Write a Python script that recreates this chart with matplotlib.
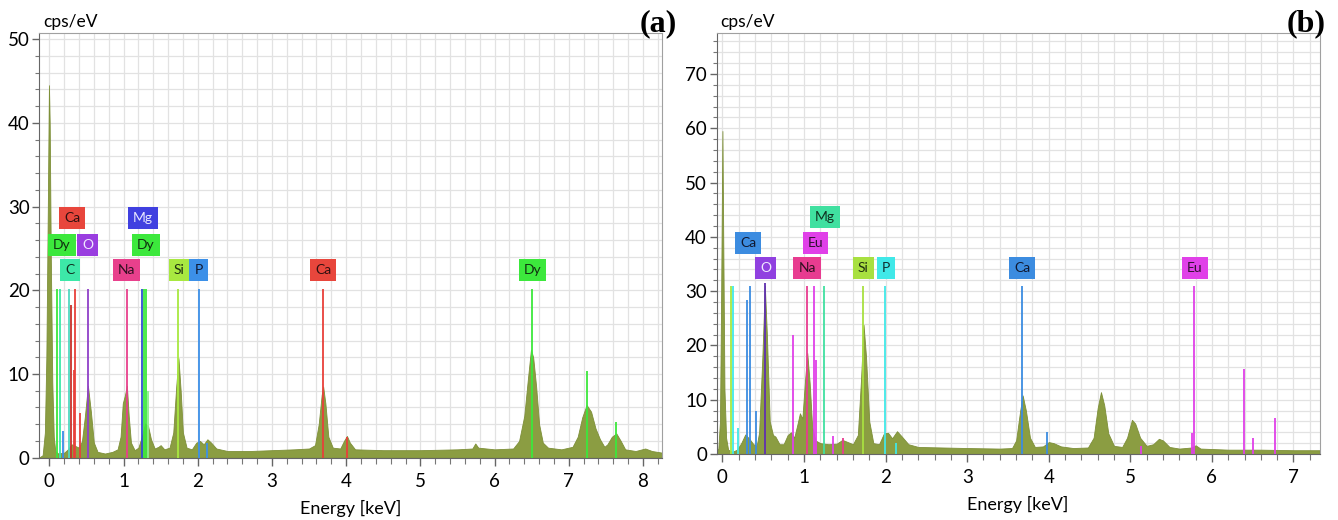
import matplotlib.pyplot as plt
from matplotlib.ticker import MultipleLocator

plt.rcParams['font.family'] = ['Lato', 'DejaVu Sans']

# Spektrum (a): Energie in keV, Zaehlrate in cps/eV
energie_a = [-0.14, -0.09, -0.06, -0.04, -0.02, -0.005, 0.005, 0.02, 0.04, 0.06,
             0.08, 0.12, 0.2, 0.25, 0.3, 0.35, 0.4, 0.44, 0.48, 0.52,
             0.56, 0.6, 0.65, 0.75, 0.85, 0.92, 0.96, 0.99, 1.02, 1.045,
             1.07, 1.1, 1.15, 1.2, 1.25, 1.29, 1.33, 1.37, 1.42, 1.47,
             1.5, 1.55, 1.62, 1.67, 1.71, 1.74, 1.77, 1.8, 1.85, 1.92,
             1.98, 2.03, 2.08, 2.13, 2.18, 2.25, 2.4, 2.7, 3.0, 3.3,
             3.5, 3.58, 3.63, 3.67, 3.69, 3.72, 3.76, 3.82, 3.92, 3.97,
             4.01, 4.05, 4.12, 4.5, 5.0, 5.5, 5.7, 5.74, 5.78, 6.0,
             6.25, 6.33, 6.4, 6.45, 6.49, 6.52, 6.56, 6.6, 6.65, 6.72,
             6.9, 7.05, 7.12, 7.18, 7.24, 7.3, 7.36, 7.42, 7.48, 7.52,
             7.58, 7.64, 7.7, 7.76, 7.9, 8.03, 8.12, 8.26]
zaehl_a = [0, 0.3, 3, 12, 30, 44.5, 40, 24, 9, 2.5,
           0.8, 0.5, 0.6, 1.0, 1.6, 1.4, 1.2, 2.0, 5.0, 8.6,
           5.5, 1.8, 0.7, 0.5, 0.7, 1.0, 2.5, 6.5, 7.5, 8.6,
           5.0, 1.8, 0.9, 1.2, 2.6, 4.1, 3.8, 2.2, 1.1, 1.3,
           1.5, 1.0, 1.2, 3.0, 8.5, 11.9, 8.0, 3.0, 1.2, 1.0,
           1.8, 2.0, 1.6, 2.2, 1.8, 1.1, 0.8, 0.8, 0.9, 1.0,
           1.1, 1.5, 4.0, 7.5, 8.5, 6.5, 2.5, 1.2, 1.1, 2.0,
           2.6, 1.8, 1.0, 0.9, 0.9, 1.0, 1.1, 1.7, 1.2, 1.0,
           1.1, 2.0, 5.0, 9.5, 12.9, 12.0, 8.5, 4.0, 1.8, 1.2,
           1.0, 1.3, 2.5, 4.8, 6.3, 5.5, 3.5, 2.2, 1.3, 1.6,
           2.5, 2.9, 2.0, 1.0, 0.8, 1.1, 0.8, 0.6]

# Linienmarker (a)
linien_a_energie = [0.108, 0.144, 0.18, 0.27, 0.29, 0.34, 0.335, 0.41, 0.517, 1.043,
                    1.25, 1.28, 1.30, 1.326, 1.74, 2.02, 2.13, 3.69, 4.01, 6.5,
                    7.25, 7.64]
linien_a_hoehe = [20.2, 20.2, 3.2, 20.2, 18.3, 20.2, 10.5, 5.3, 20.2, 20.2,
                  20.2, 20.2, 20.2, 8.0, 20.2, 20.2, 1.8, 20.2, 2.5, 20.2,
                  10.3, 4.3]
linien_a_farbe = ['#3ce83c', '#3ce8a8', '#3c8ce8', '#50d8c0', '#c8302a', '#e8403a', '#e8403a', '#e8403a', '#9040c8', '#e8408c',
                  '#3050d0', '#3ce83c', '#3ce83c', '#8cf08c', '#a8e840', '#3c90e8', '#3c90e8', '#e8403a', '#e8403a', '#3ce83c',
                  '#3ce83c', '#3ce83c']

# Beschriftungen (a)
etiketten_a = ['Ca', 'Dy', 'O', 'C', 'Mg', 'Dy', 'Na', 'Si', 'P', 'Ca', 'Dy']
etiketten_a_x = [0.31, 0.17, 0.52, 0.28, 1.256, 1.30, 1.04, 1.75, 2.01, 3.69, 6.51]
etiketten_a_y = [28.6, 25.4, 25.4, 22.4, 28.6, 25.4, 22.4, 22.4, 22.4, 22.4, 22.4]
etiketten_a_farbe = ['#e8463c', '#3ce83c', '#9a3ee0', '#3de8a8', '#4040e0', '#3ce83c', '#e8408c', '#a8e840', '#3c90e8', '#e8463c', '#3ce83c']
etiketten_a_text = ['#301010', '#103010', '#f0e8ff', '#103020', '#e8e8ff', '#103010', '#301020', '#203010', '#101830', '#301010', '#103010']

# Spektrum (b)
energie_b = [-0.1, -0.05, -0.03, -0.015, 0.0, 0.01, 0.025, 0.045, 0.07, 0.12,
             0.18, 0.23, 0.28, 0.33, 0.38, 0.42, 0.45, 0.49, 0.52, 0.545,
             0.58, 0.62, 0.65, 0.7, 0.75, 0.8, 0.84, 0.88, 0.92, 0.95,
             0.98, 1.01, 1.04, 1.07, 1.1, 1.14, 1.2, 1.3, 1.4, 1.47,
             1.52, 1.6, 1.66, 1.7, 1.73, 1.76, 1.8, 1.85, 1.92, 1.98,
             2.03, 2.08, 2.14, 2.2, 2.28, 2.4, 2.7, 3.0, 3.4, 3.55,
             3.6, 3.65, 3.68, 3.72, 3.77, 3.83, 3.93, 4.0, 4.06, 4.15,
             4.3, 4.48, 4.55, 4.6, 4.64, 4.68, 4.73, 4.8, 4.9, 4.96,
             5.02, 5.06, 5.12, 5.2, 5.28, 5.35, 5.4, 5.48, 5.6, 5.75,
             5.8, 5.86, 6.2, 6.6, 7.0, 7.32]
zaehl_b = [0, 1, 6, 30, 59.5, 40, 12, 3, 0.8, 0.4,
           0.8, 2.0, 3.6, 2.8, 1.8, 1.5, 4.0, 18.0, 31.0, 22.0,
           6.0, 3.5, 3.2, 1.8, 1.8, 3.5, 4.0, 3.0, 5.5, 7.5,
           6.5, 13.0, 18.6, 13.0, 5.0, 2.5, 2.0, 1.8, 1.9, 2.6,
           2.3, 1.8, 3.5, 14.0, 23.8, 18.0, 6.0, 2.0, 1.8, 3.8,
           3.9, 2.9, 4.2, 3.2, 1.8, 1.3, 1.2, 1.1, 1.0, 1.1,
           2.5, 8.0, 10.8, 8.0, 3.0, 1.3, 1.4, 2.2, 2.0, 1.4,
           1.1, 1.2, 3.0, 8.5, 11.4, 9.0, 3.8, 1.5, 1.3, 3.0,
           6.3, 5.6, 3.0, 1.5, 1.8, 2.8, 2.5, 1.3, 1.0, 1.2,
           1.6, 1.0, 0.8, 0.8, 0.7, 0.7]

# Linienmarker (b)
linien_b_energie = [0.103, 0.127, 0.19, 0.306, 0.343, 0.41, 0.523, 0.87, 1.034, 1.128,
                    1.145, 1.246, 1.35, 1.475, 1.724, 1.994, 2.125, 3.667, 3.98, 5.13,
                    5.75, 5.78, 6.39, 6.50, 6.77]
linien_b_hoehe = [31, 31, 4.8, 28.3, 31, 8.0, 31.5, 22, 31, 31,
                  17.3, 31, 3.3, 3.0, 31, 31, 2.0, 31, 4.0, 1.5,
                  3.8, 31, 15.7, 3.0, 6.6]
linien_b_farbe = ['#a8e840', '#40e8e8', '#40e8e8', '#3c8ce0', '#3c8ce0', '#3c8ce0', '#6030b0', '#e040e8', '#e83c90', '#e040e8',
                  '#e040e8', '#40e0a0', '#e040e8', '#e83c90', '#a8e040', '#40e8e8', '#40e8e8', '#3c8ce0', '#3c8ce0', '#e040e8',
                  '#e040e8', '#e040e8', '#e040e8', '#e040e8', '#e040e8']

# Beschriftungen (b)
etiketten_b = ['Ca', 'O', 'Mg', 'Eu', 'Na', 'Si', 'P', 'Ca', 'Eu']
etiketten_b_x = [0.313, 0.527, 1.252, 1.14, 1.038, 1.728, 2.004, 3.673, 5.79]
etiketten_b_y = [38.9, 34.2, 43.7, 38.9, 34.2, 34.2, 34.2, 34.2, 34.2]
etiketten_b_farbe = ['#3c8ce0', '#9040e0', '#40e0a0', '#e040e8', '#e83c90', '#a8e040', '#40e8e8', '#3c8ce0', '#e040e8']
etiketten_b_text = ['#101830', '#f0e8ff', '#103020', '#301030', '#301020', '#203010', '#103030', '#101830', '#301030']


def panel(ax, energie, zaehl, lin_e, lin_h, lin_f, etk, etk_x, etk_y, etk_f, etk_t,
          xmin, xmax, ymax, xmaj, ymaj, ymin_step):
    ax.fill_between(energie, 0, zaehl, color='#8b9d42', lw=0.6, ec='#7d8f38', zorder=2)
    ax.vlines(lin_e, 0, lin_h, colors=lin_f, lw=1.3, zorder=3)
    for t, x, y, f, tf in zip(etk, etk_x, etk_y, etk_f, etk_t):
        ax.text(x, y, t, ha='center', va='center', fontsize=10, color=tf, zorder=4,
                bbox=dict(boxstyle='square,pad=0.36', fc=f, ec='none'))
    ax.set_xlim(xmin, xmax)
    ax.set_ylim(0, ymax)
    ax.xaxis.set_major_locator(MultipleLocator(xmaj))
    ax.xaxis.set_minor_locator(MultipleLocator(0.2))
    ax.yaxis.set_major_locator(MultipleLocator(ymaj))
    ax.yaxis.set_minor_locator(MultipleLocator(ymin_step))
    ax.grid(True, which='both', color='#e2e2e2', lw=0.9, zorder=0)
    ax.set_axisbelow(True)
    ax.tick_params(which='major', length=6, width=1, color='#666666', labelsize=13.5, pad=5)
    ax.tick_params(which='minor', length=4, width=0.8, color='#777777')
    ax.tick_params(axis='y', which='major', length=5, pad=2)
    ax.tick_params(axis='y', which='minor', length=3)
    for s in ['top', 'right']:
        ax.spines[s].set_color('#a0a0a0')
    for s in ['left', 'bottom']:
        ax.spines[s].set_color('#666666')
    ax.set_xlabel('Energy [keV]', fontsize=13, labelpad=7)


fig = plt.figure(figsize=(13.38, 5.2), dpi=100)
ax_a = fig.add_axes([39.3 / 1338, (520 - 457.7) / 520, 623 / 1338, 424.4 / 520])
ax_b = fig.add_axes([716.7 / 1338, (520 - 454) / 520, 602.9 / 1338, 420.7 / 520])

panel(ax_a, energie_a, zaehl_a, linien_a_energie, linien_a_hoehe, linien_a_farbe,
      etiketten_a, etiketten_a_x, etiketten_a_y, etiketten_a_farbe, etiketten_a_text,
      -0.135, 8.26, 50.7, 1, 10, 2)
panel(ax_b, energie_b, zaehl_b, linien_b_energie, linien_b_hoehe, linien_b_farbe,
      etiketten_b, etiketten_b_x, etiketten_b_y, etiketten_b_farbe, etiketten_b_text,
      -0.07, 7.32, 77.5, 1, 10, 2)

fig.text(43 / 1338, 1 - 22 / 520, 'cps/eV', fontsize=12.5, va='center', ha='left')
fig.text(720 / 1338, 1 - 22 / 520, 'cps/eV', fontsize=12.5, va='center', ha='left')
fig.text(677 / 1338, 1 - 24 / 520, '(a)', fontsize=23, fontweight='bold',
         family='Liberation Serif', va='center', ha='right')
fig.text(1326 / 1338, 1 - 24 / 520, '(b)', fontsize=23, fontweight='bold',
         family='Liberation Serif', va='center', ha='right')

fig.savefig('out.png', dpi=100)
